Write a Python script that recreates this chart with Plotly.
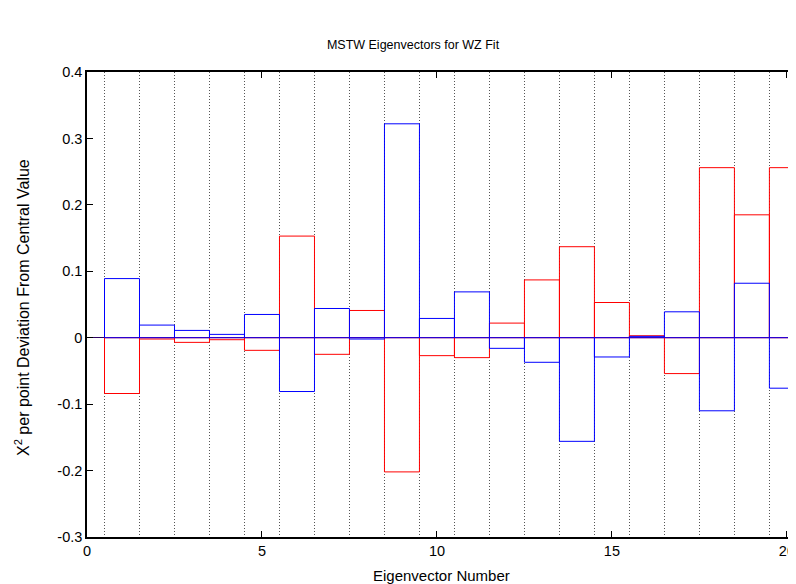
import plotly.graph_objects as go

eigenvectors = list(range(1, 21))
red_values = [-0.084, -0.002, -0.007, -0.003, -0.019, 0.153, -0.025, 0.041, -0.202, -0.027,
              -0.030, 0.022, 0.087, 0.137, 0.053, 0.003, -0.054, 0.256, 0.185, 0.256]
blue_values = [0.089, 0.019, 0.011, 0.005, 0.035, -0.081, 0.044, -0.002, 0.322, 0.029,
               0.069, -0.016, -0.037, -0.156, -0.029, 0.002, 0.039, -0.110, 0.082, -0.076]
x_ticks = [0, 5, 10, 15, 20]
y_ticks = [-0.3, -0.2, -0.1, 0, 0.1, 0.2, 0.3, 0.4]
y_tick_labels = ["-0.3", "-0.2", "-0.1", "0", "0.1", "0.2", "0.3", "0.4"]

font = "Liberation Sans, Arial, sans-serif"

# page body has an 8px margin, so the figure is drawn 8px in from the top-left
W, H = 788, 576
L, R, T, B = 79, 0, 64, 47
pw, ph = W - L - R, H - T - B

fig = go.Figure()
fig.add_trace(go.Bar(x=eigenvectors, y=red_values, width=1,
                     marker=dict(color="rgba(0,0,0,0)", line=dict(color="#ff0000", width=1)),
                     showlegend=False))
fig.add_trace(go.Bar(x=eigenvectors, y=blue_values, width=1,
                     marker=dict(color="rgba(0,0,0,0)", line=dict(color="#0000ff", width=1)),
                     showlegend=False))

fig.update_layout(
    width=W, height=H,
    margin=dict(l=L, r=R, t=T, b=B, autoexpand=False),
    paper_bgcolor="white", plot_bgcolor="white",
    barmode="overlay",
    font=dict(family=font, size=14, color="black"),
    title=dict(text="MSTW Eigenvectors for WZ Fit", x=(413 - 8) / W, xanchor="center",
               y=1 - 37 / H, yref="container", yanchor="middle",
               font=dict(family=font, size=12.5, color="black")),
    xaxis=dict(range=[0, 20.26], tickvals=x_ticks, ticks="inside", ticklen=6,
               tickcolor="black", showline=True, linecolor="black", linewidth=1.5,
               mirror="ticks", showgrid=False, zeroline=False,
               minor=dict(tick0=0.5, dtick=1, showgrid=True, griddash="1px,2px",
                          gridcolor="#555555", gridwidth=1),
               tickfont=dict(size=14.5)),
    yaxis=dict(range=[-0.3, 0.4], tickvals=y_ticks, ticktext=y_tick_labels,
               ticks="inside", ticklen=6, tickcolor="black", showline=True,
               linecolor="black", linewidth=1.5, showgrid=False,
               zeroline=True, zerolinecolor="#2a0060", zerolinewidth=1,
               tickfont=dict(size=14.5)),
    annotations=[
        dict(text="Eigenvector Number", xref="paper", yref="paper",
             x=(441 - 87) / pw, y=-38 / ph, xanchor="center", yanchor="middle",
             showarrow=False, font=dict(family=font, size=15)),
        dict(text="X<sup>2</sup> per point Deviation From Central Value", xref="paper",
             yref="paper", x=-65 / pw, y=(537 - 308) / 465, xanchor="center", yanchor="middle",
             textangle=-90, showarrow=False, font=dict(family=font, size=16)),
    ],
)

fig.write_html("out.html")
